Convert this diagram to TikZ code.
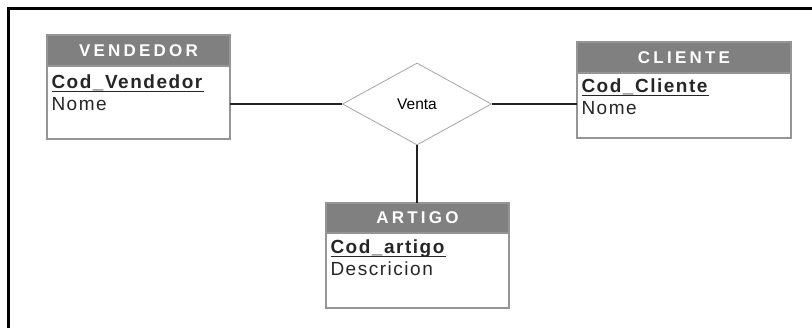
\documentclass[tikz,border=0pt]{standalone}
\usepackage{fontspec}
\setmainfont{Liberation Sans}
\newfontfamily\headfont{Liberation Sans}[LetterSpace=19]
\newfontfamily\attrfont{Liberation Sans}[LetterSpace=8]
\usetikzlibrary{shapes.geometric,positioning}

\definecolor{headgray}{HTML}{808080}
\definecolor{boxgray}{HTML}{959595}
\definecolor{relgray}{HTML}{A5A5A5}
\definecolor{linkgray}{HTML}{222222}

% key attribute: bold with a thick underline
\newcommand\pkey[1]{\setbox0\hbox{\textbf{#1}}%
  \rlap{\raisebox{-3.5pt}{\rule{\wd0}{1.6pt}}}\box0}

\tikzset{
  entity/.style={draw=boxgray,line width=1.2pt,fill=headgray,text=white,outer sep=0pt,
    inner sep=0pt,minimum height=31pt,font=\headfont\bfseries\fontsize{17}{18}\selectfont},
  attrs/.style={draw=boxgray,line width=1.2pt,fill=white,outer sep=0pt,align=left,
    inner xsep=4.5pt,inner ysep=4pt,text=black!85,font=\attrfont\fontsize{19}{22}\selectfont},
  rel/.style={diamond,draw=relgray,line width=0.8pt,aspect=1.82,minimum width=149pt,
    minimum height=82pt,inner sep=0pt,font=\fontsize{15.5}{17}\selectfont},
  link/.style={draw=linkgray,line width=2.2pt}
}

\begin{document}
\begin{tikzpicture}[x=1pt,y=1pt]
  \useasboundingbox (0,0) rectangle (812,328);
  \draw[line width=3pt] (8.5,0) -- (8.5,319.5) -- (812,319.5);

  \node[rel]                              (venta)  at (417,224)     {Venta};
  \node[entity,minimum width=183pt]       (vend)   at (138.5,277.5) {VENDEDOR};
  \node[entity,minimum width=214pt]       (cli)    at (684,270.5)   {CLIENTE};
  \node[entity,minimum width=183pt,minimum height=30pt] (art) at (417.5,110) {ARTIGO};

  \node[attrs,text width=174pt,text height=19pt,text depth=46pt] (vendAttr) [below=0pt of vend]
    {\pkey{Cod\_Vendedor}\\Nome};
  \node[attrs,text width=205pt,text height=16pt,text depth=41pt] (cliAttr) [below=0pt of cli]
    {\pkey{Cod\_Cliente}\\Nome};
  \node[attrs,text width=174pt,text height=17pt,text depth=50pt] (artAttr) [below=0pt of art]
    {\pkey{Cod\_artigo}\\Descricion};

  \draw[link] (venta.west) -- (venta.west -| vendAttr.east);
  \draw[link] (venta.east) -- (venta.east -| cliAttr.west);
  \draw[link] (venta.south) -- (venta.south |- art.north);
\end{tikzpicture}
\end{document}
